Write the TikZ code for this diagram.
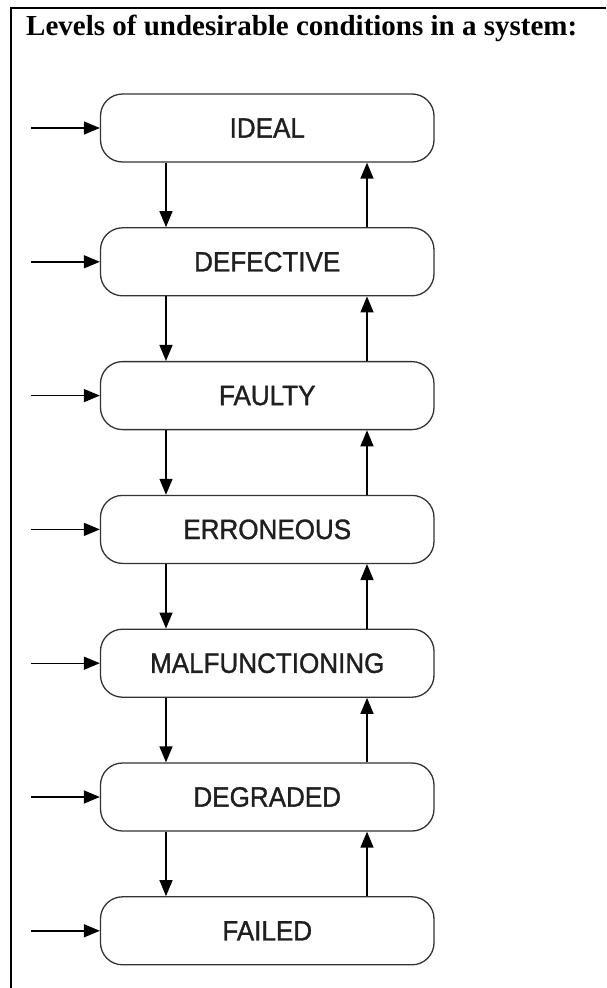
\documentclass[tikz,border=0pt]{standalone}
\usepackage{fontspec}
\setmainfont{Liberation Serif}
\newfontfamily\boxfont[FakeStretch=0.93, FakeBold=1.2]{Liberation Sans}
\usetikzlibrary{arrows.meta}

\tikzset{
  level/.style={draw=black!80, line width=1.3pt, rounded corners=22pt,
    minimum width=333.5pt, minimum height=68pt, inner sep=0pt,
    font=\boxfont\fontsize{28}{28}\selectfont, text=black!88},
  flow/.style={line width=1.4pt, -{Triangle[length=16pt,width=13pt]}},
  frame/.style={line width=2pt},
}

\begin{document}
\begin{tikzpicture}[x=1pt, y=-1pt]
  \useasboundingbox (0,0) rectangle (606,988);

  % open frame: top rule and left rule
  \draw[frame] (606,7.5) -- (11,7.5) -- (11,988);

  % heading
  \node[anchor=base west, inner sep=0pt,
        font=\bfseries\fontsize{29}{29}\selectfont] (title) at (26,35)
    {Levels of undesirable conditions in a system:};

  % condition levels, from best to worst
  \foreach \name/\label [count=\i from 0] in
      {ideal/IDEAL, defective/DEFECTIVE, faulty/FAULTY,
       erroneous/ERRONEOUS, malf/MALFUNCTIONING,
       degraded/DEGRADED, failed/FAILED} {
    \node[level] (\name) at (267.25, 128+\i*133.8) {\label};
    \coordinate (in-\name) at (31, 128+\i*133.8);
    \draw[flow] (in-\name) -- (\name.west);
  }

  % transitions between neighbouring levels
  \foreach \a/\b in {ideal/defective, defective/faulty, faulty/erroneous,
                     erroneous/malf, malf/degraded, degraded/failed} {
    \draw[flow] (\a.south -| 166,0) -- (\b.north -| 166,0);
    \draw[flow] (\b.north -| 367,0) -- (\a.south -| 367,0);
  }
\end{tikzpicture}
\end{document}
